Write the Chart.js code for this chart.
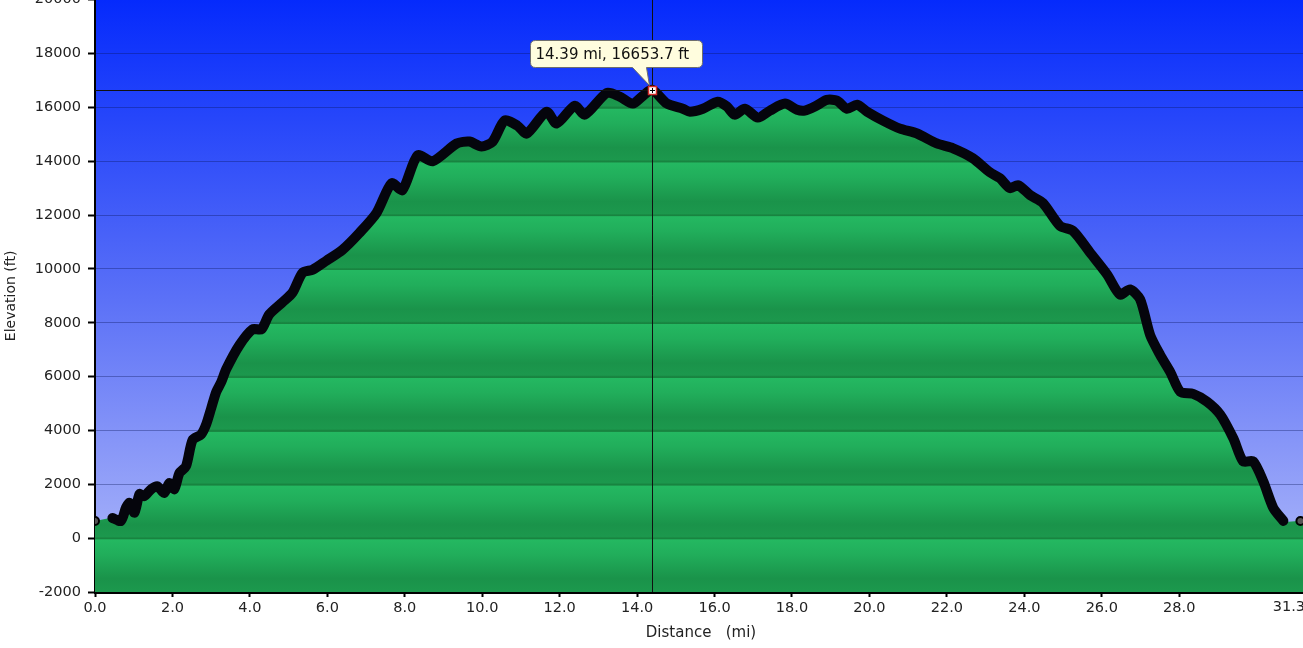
<!DOCTYPE html>
<html>
<head>
<meta charset="utf-8">
<title>Elevation profile</title>
<script src="https://cdn.jsdelivr.net/npm/chart.js@4.4.0/dist/chart.umd.min.js"></script>
<style>
  html, body { margin: 0; padding: 0; background: #fff; overflow: hidden; }
  #wrap { position: absolute; left: 0; top: -16px; width: 1320px; height: 664px; }
</style>
</head>
<body>
<div id="wrap"><canvas id="elevationChart" width="1320" height="664"></canvas></div>
<script>
// track distance (mi)
const distance = [
  0.0, 0.45, 0.67, 0.80, 0.89, 1.02, 1.15, 1.27, 1.45, 1.61, 1.79, 1.92, 2.05, 2.18, 2.35,
  2.52, 2.74, 2.87, 3.00, 3.13, 3.26, 3.39, 3.73, 4.07, 4.30, 4.50, 4.84, 5.10, 5.36, 5.62,
  5.98, 6.39, 6.83, 7.27, 7.66, 7.94, 8.33, 8.72, 9.34, 9.67, 9.98, 10.27, 10.58, 10.91, 11.15,
  11.66, 11.92, 12.39, 12.65, 13.22, 13.55, 13.89, 14.15, 14.39, 14.77, 15.18, 15.36, 15.70, 16.08, 16.32,
  16.52, 16.78, 17.12, 17.43, 17.82, 18.13, 18.33, 18.59, 18.90, 19.16, 19.42, 19.68, 19.94, 20.35, 20.79,
  21.23, 21.74, 22.16, 22.67, 23.11, 23.37, 23.63, 23.84, 24.15, 24.48, 24.92, 25.26, 25.70, 26.14, 26.47,
  26.73, 26.99, 27.25, 27.51, 27.77, 28.03, 28.36, 28.72, 29.06, 29.40, 29.65, 29.91, 30.17, 30.43, 30.69,
  31.13, 31.3
];
// elevation (ft)
const elevation = [
  640, 750, 640, 1130, 1310, 945, 1635, 1560, 1820, 1930, 1680, 2050, 1820, 2420, 2670,
  3650, 3850, 4220, 4820, 5430, 5800, 6280, 7170, 7760, 7760, 8310, 8760, 9120, 9860, 9970,
  10310, 10710, 11340, 12080, 13180, 12930, 14220, 14000, 14660, 14730, 14550, 14730, 15510, 15320, 15030,
  15840, 15400, 16060, 15730, 16540, 16400, 16140, 16430, 16653.7, 16140, 15950, 15840, 15950, 16210, 16030,
  15730, 15950, 15620, 15880, 16140, 15910, 15880, 16030, 16280, 16250, 15950, 16100, 15840, 15510, 15210,
  15030, 14660, 14480, 14110, 13590, 13370, 13000, 13110, 12740, 12450, 11600, 11410, 10600, 9790, 9050,
  9240, 8870, 7540, 6800, 6170, 5430, 5360, 5070, 4590, 3700, 2850, 2850, 2110, 1120, 640,
  640, 640
];
// GPS dropouts: the track line is broken after these point indexes
const gapsAfter = [0, 104];
// the last drawn track point; the profile fill runs on to the axis end
const trackEnd = 105;
const xTicks = [0, 2, 4, 6, 8, 10, 12, 14, 16, 18, 20, 22, 24, 26, 28];
const xEndLabel = "31.3";
const xMax = 31.3;
const yTicks = [-2000, 0, 2000, 4000, 6000, 8000, 10000, 12000, 14000, 16000, 18000, 20000];
const peakMi = 14.39;
const peakFt = 16653.7;

const FONT = "'DejaVu Sans', Verdana, sans-serif";

const profilePoints = distance.map((d, i) => ({ x: d, y: elevation[i] }));
// same points, with a null after each dropout so the line breaks there
const trackPoints = [];
profilePoints.slice(0, trackEnd + 1).forEach((p, i) => {
  trackPoints.push(p);
  if (gapsAfter.includes(i)) trackPoints.push({ x: p.x, y: null });
});

// banded green fill, darker toward each grid line
function greenBands(chart) {
  const { chartArea, scales } = chart;
  if (!chartArea) return "#22b35e";
  const h = chartArea.bottom - chartArea.top;
  const g = chart.ctx.createLinearGradient(0, chartArea.top, 0, chartArea.bottom);
  const off = (px) => Math.min(1, Math.max(0, (px - chartArea.top) / h));
  const vals = yTicks.slice().sort((a, b) => b - a);
  for (let i = 0; i < vals.length - 1; i++) {
    const y0 = scales.y.getPixelForValue(vals[i]);
    const y1 = scales.y.getPixelForValue(vals[i + 1]);
    const bh = y1 - y0;
    g.addColorStop(off(y0), "rgb(24,132,64)");
    g.addColorStop(off(y0 + 1), "rgb(24,132,64)");
    g.addColorStop(off(y0 + 1.5), "rgb(36,184,97)");
    g.addColorStop(off(y0 + bh * 0.3), "rgb(33,174,91)");
    g.addColorStop(off(y0 + bh * 0.75), "rgb(26,147,74)");
    g.addColorStop(off(y1 - 1.5), "rgb(28,152,77)");
  }
  return g;
}

const skyPlugin = {
  id: "sky",
  beforeDraw(chart) {
    const { ctx, chartArea: a } = chart;
    const g = ctx.createLinearGradient(0, a.top, 0, a.bottom);
    g.addColorStop(0, "rgb(5,42,252)");
    g.addColorStop(0.2, "rgb(38,70,250)");
    g.addColorStop(0.5, "rgb(90,112,247)");
    g.addColorStop(0.75, "rgb(135,150,248)");
    g.addColorStop(1, "rgb(178,188,250)");
    ctx.save();
    ctx.fillStyle = g;
    ctx.fillRect(a.left, a.top, a.right - a.left, a.bottom - a.top);
    ctx.restore();
  }
};

const cursorPlugin = {
  id: "cursor",
  afterDatasetsDraw(chart) {
    const { ctx, chartArea: a, scales } = chart;
    const px = Math.round(scales.x.getPixelForValue(peakMi)) + 0.5;
    const py = Math.round(scales.y.getPixelForValue(peakFt)) + 0.5;
    ctx.save();
    ctx.strokeStyle = "#111";
    ctx.lineWidth = 1;
    ctx.beginPath();
    ctx.moveTo(px, a.top);
    ctx.lineTo(px, a.bottom);
    ctx.moveTo(a.left, py);
    ctx.lineTo(a.right, py);
    ctx.stroke();

    // marker
    ctx.fillStyle = "#fff";
    ctx.fillRect(px - 4, py - 4, 8, 8);
    ctx.strokeStyle = "#d42a2a";
    ctx.lineWidth = 1.5;
    ctx.strokeRect(px - 4, py - 4, 8, 8);
    ctx.strokeStyle = "#000";
    ctx.lineWidth = 1;
    ctx.beginPath();
    ctx.moveTo(px - 2.5, py);
    ctx.lineTo(px + 2.5, py);
    ctx.moveTo(px, py - 2.5);
    ctx.lineTo(px, py + 2.5);
    ctx.stroke();

    // callout
    const l = px - 122, r = px + 50, t = py - 50, b = py - 23, rad = 5;
    const tailA = px - 20, tailB = px - 6, tipX = px - 3, tipY = py - 5;
    ctx.beginPath();
    ctx.moveTo(l + rad, t);
    ctx.lineTo(r - rad, t);
    ctx.quadraticCurveTo(r, t, r, t + rad);
    ctx.lineTo(r, b - rad);
    ctx.quadraticCurveTo(r, b, r - rad, b);
    ctx.lineTo(tailB, b);
    ctx.lineTo(tipX, tipY);
    ctx.lineTo(tailA, b);
    ctx.lineTo(l + rad, b);
    ctx.quadraticCurveTo(l, b, l, b - rad);
    ctx.lineTo(l, t + rad);
    ctx.quadraticCurveTo(l, t, l + rad, t);
    ctx.closePath();
    ctx.fillStyle = "rgb(255,253,222)";
    ctx.fill();
    ctx.strokeStyle = "rgb(110,110,110)";
    ctx.lineWidth = 1;
    ctx.stroke();

    ctx.fillStyle = "#111";
    ctx.font = "15px " + FONT;
    ctx.textAlign = "left";
    ctx.textBaseline = "middle";
    ctx.fillText(peakMi.toFixed(2) + " mi, " + peakFt.toFixed(1) + " ft", l + 5, (t + b) / 2 + 1);
    ctx.restore();
  },
  afterDraw(chart) {
    // the end-of-track label sits flush with the right edge
    const { ctx, chartArea: a } = chart;
    ctx.save();
    ctx.fillStyle = "#222";
    ctx.font = "14.5px " + FONT;
    ctx.textAlign = "right";
    ctx.textBaseline = "top";
    ctx.fillText(xEndLabel, a.right - 2, a.bottom + 8);
    ctx.restore();
  }
};

new Chart(document.getElementById("elevationChart"), {
  type: "line",
  data: {
    datasets: [
      {
        label: "Track",
        data: trackPoints,
        borderColor: "#05050c",
        borderWidth: 10,
        borderCapStyle: "round",
        borderJoinStyle: "round",
        tension: 0.25,
        fill: false,
        spanGaps: false,
        pointRadius: (ctx) => (ctx.dataIndex === 0 || ctx.dataIndex === trackPoints.length - 1 ? 4 : 0),
        pointBackgroundColor: "#555",
        pointBorderColor: "#000",
        pointBorderWidth: 2
      },
      {
        label: "Elevation",
        data: profilePoints,
        borderWidth: 0,
        borderColor: "rgba(0,0,0,0)",
        tension: 0.25,
        fill: "start",
        backgroundColor: (ctx) => greenBands(ctx.chart),
        pointRadius: 0
      }
    ]
  },
  options: {
    responsive: false,
    animation: false,
    devicePixelRatio: 1,
    events: [],
    layout: { padding: { right: 13, top: 0, left: 0, bottom: 0 } },
    plugins: { legend: { display: false }, tooltip: { enabled: false } },
    scales: {
      x: {
        type: "linear",
        min: 0,
        max: xMax,
        afterBuildTicks: (scale) => { scale.ticks = xTicks.map((v) => ({ value: v })); },
        afterFit: (scale) => { scale.height = 56; },
        ticks: {
          autoSkip: false,
          maxRotation: 0,
          padding: 3,
          color: "#222",
          font: { family: FONT, size: 14.5 },
          callback: (v) => Number(v).toFixed(1)
        },
        grid: { drawOnChartArea: false, drawTicks: true, tickLength: 5, tickColor: "#000", tickWidth: 2 },
        border: { color: "#000", width: 3 },
        title: {
          display: true,
          text: "Distance   (mi)",
          color: "#222",
          font: { family: FONT, size: 15 },
          padding: { top: 0, bottom: 6 }
        }
      },
      y: {
        min: -2000,
        max: 20000,
        afterBuildTicks: (scale) => { scale.ticks = yTicks.map((v) => ({ value: v })); },
        afterFit: (scale) => { scale.width = 95; },
        ticks: {
          padding: 7,
          color: "#222",
          font: { family: FONT, size: 14.5 },
          callback: (v) => String(v)
        },
        grid: {
          color: "rgba(10,20,90,0.35)",
          lineWidth: 1,
          drawTicks: true,
          tickLength: 7,
          tickColor: "#000",
          tickWidth: 2
        },
        border: { color: "#000", width: 2 },
        title: {
          display: true,
          text: "Elevation (ft)",
          color: "#222",
          font: { family: FONT, size: 14 },
          padding: { top: 3, bottom: 0 }
        }
      }
    }
  },
  plugins: [skyPlugin, cursorPlugin]
});
</script>
</body>
</html>
